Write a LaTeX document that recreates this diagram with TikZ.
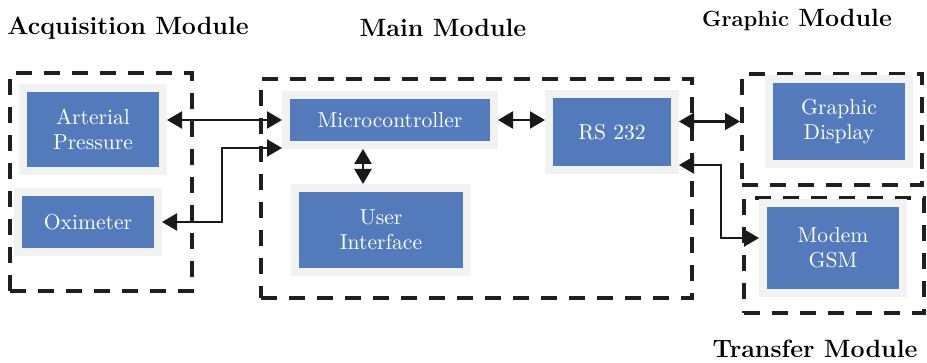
\documentclass[tikz,border=0pt]{standalone}
\usepackage{tikz}
\usetikzlibrary{arrows.meta}
\definecolor{boxblue}{RGB}{83,123,188}
\definecolor{boxgrey}{RGB}{242,242,242}

\begin{document}
\begin{tikzpicture}[x=0.5pt, y=-0.5pt,
  every node/.style={font=\fontsize{10.8}{12.5}\selectfont},
  unit/.style={draw=boxgrey, line width=4pt, fill=boxblue, text=white, align=center, inner sep=0pt},
  modbox/.style={draw=black!88, line width=2pt, dash pattern=on 8pt off 6pt, inner sep=0pt},
  title/.style={font=\bfseries\fontsize{12.5}{14}\selectfont},
  link/.style={{Triangle[length=7.5pt,width=8.5pt]}-{Triangle[length=7.5pt,width=8.5pt]}, line width=1.1pt, black!90}]
\useasboundingbox (0,0) rectangle (927,363);
% module frames
\node[modbox, minimum width=91pt, minimum height=109pt] (acq) at (101,182) {};
\node[modbox, minimum width=215.5pt, minimum height=109.5pt] (main) at (476.5,188.5) {};
\node[modbox, minimum width=90pt, minimum height=55.5pt] (graph) at (832,129.5) {};
\node[modbox, minimum width=90pt, minimum height=57.5pt] (trans) at (834,255.5) {};
% titles
\node[title] (acqtitle) at (128,28) {Acquisition Module};
\node[title] (maintitle) at (443,28) {Main Module};
\node[title] (graphtitle) at (797,20) {{\fontsize{11}{12}\selectfont Graphic} Module};
\node[title] (transtitle) at (815,349) {Transfer Module};
% units
\node[unit, minimum width=70pt, minimum height=41.5pt] (ap) at (93,129.5) {Arterial\\Pressure};
\node[unit, minimum width=70pt, minimum height=30pt] (oxi) at (88,222) {Oximeter};
\node[unit, minimum width=104pt, minimum height=25pt] (mcu) at (390,120) {Microcontroller};
\node[unit, minimum width=63pt, minimum height=38pt] (rs) at (612,132) {RS 232};
\node[unit, minimum width=86pt, minimum height=42pt] (ui) at (381,230) {User\\Interface};
\node[unit, minimum width=70pt, minimum height=42.5pt] (gd) at (839,121.5) {Graphic\\Display};
\node[unit, minimum width=70pt, minimum height=45pt] (gsm) at (833,248) {Modem\\GSM};
% links
\coordinate (oxbend) at (222,148);
\coordinate (gsmbend) at (721,165);
\draw[link] (ap.east |- mcu.west) -- (mcu.west);
\draw[link] (oxi.east) -| (oxbend) -- (oxbend -| mcu.west);
\draw[link] ([xshift=-13.5pt]mcu.south) -- ([xshift=-9pt]ui.north);
\draw[link] (mcu.east) -- (mcu.east -| rs.west);
\draw[link] (rs.east |- gd.west) -- (graph.west |- gd.west);
\draw[link] (gsmbend -| rs.east) -- (gsmbend) |- ([yshift=5pt]gsm.west);
\end{tikzpicture}
\end{document}
